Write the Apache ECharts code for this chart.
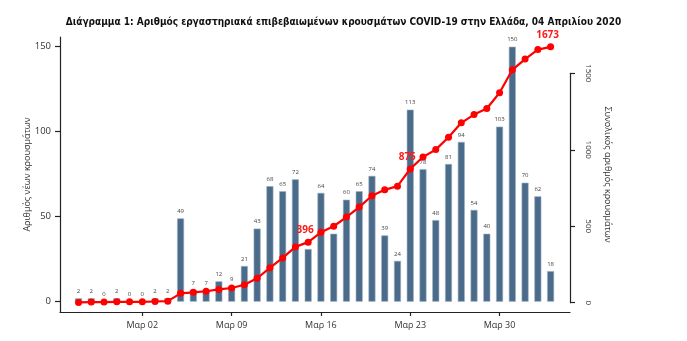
<!DOCTYPE html>
<html>
<head>
<meta charset="utf-8">
<script src="https://cdn.jsdelivr.net/npm/echarts@6/dist/echarts.min.js"></script>
<style>
  html, body { margin: 0; padding: 0; background: #fff; }
  #chart { width: 687px; height: 341px; }
</style>
</head>
<body>
<div id="chart"></div>
<script>
// Daily reporting days, 26 Feb – 3 Apr 2020
const days = [
  'Φεβ 26', 'Φεβ 27', 'Φεβ 28', 'Φεβ 29', 'Μαρ 01', 'Μαρ 02', 'Μαρ 03', 'Μαρ 04',
  'Μαρ 05', 'Μαρ 06', 'Μαρ 07', 'Μαρ 08', 'Μαρ 09', 'Μαρ 10', 'Μαρ 11', 'Μαρ 12',
  'Μαρ 13', 'Μαρ 14', 'Μαρ 15', 'Μαρ 16', 'Μαρ 17', 'Μαρ 18', 'Μαρ 19', 'Μαρ 20',
  'Μαρ 21', 'Μαρ 22', 'Μαρ 23', 'Μαρ 24', 'Μαρ 25', 'Μαρ 26', 'Μαρ 27', 'Μαρ 28',
  'Μαρ 29', 'Μαρ 30', 'Μαρ 31', 'Απρ 01', 'Απρ 02', 'Απρ 03'
];

// New confirmed cases per day
const newCases = [
  2, 2, 0, 2, 0, 0, 2, 2, 49, 7, 7, 12, 9, 21, 43, 68, 65, 72, 31,
  64, 40, 60, 65, 74, 39, 24, 113, 78, 48, 81, 94, 54, 40, 103, 150, 70, 62, 18
];

// Cumulative confirmed cases
const totalCases = [
  2, 4, 4, 6, 6, 6, 8, 10, 61, 68, 75, 87, 96, 117, 160, 228, 293, 365, 396,
  460, 500, 560, 625, 699, 738, 762, 875, 953, 1001, 1082, 1176, 1230, 1270, 1373, 1523, 1593, 1655, 1673
];

// Days whose cumulative total is written on the line
const annotatedDays = ['Μαρ 15', 'Μαρ 23', 'Απρ 03'];

// Axis ticks
const firstWeekTick = 'Μαρ 02';
const lastWeekTick = 'Μαρ 30';
const weekStep = 7;
const leftMax = 150, leftStep = 50;
const rightMax = 1500, rightStep = 500;

const FONT = '"Open Sans", "Noto Sans", sans-serif';
const AXIS_COLOR = '#222';

const barData = newCases.map((v, i) => [i, v]);
const lineData = totalCases.map((v, i) => {
  const item = { value: [i, v] };
  if (annotatedDays.includes(days[i])) {
    item.label = {
      show: true, position: 'top', distance: 3, offset: [-3, 0],
      color: '#ff1a1a', fontWeight: 'bold', fontSize: 10, fontFamily: FONT,
      formatter: p => String(p.value[1])
    };
  }
  return item;
});

// Plot frame (px inside the 687x341 canvas) and the day range it spans
const frame = { left: 60, right: 117, top: 37, bottom: 29 };
const dayMin = -1.45, dayMax = 38.52;
const pxPerDay = (687 - frame.left - frame.right) / (dayMax - dayMin);

// Left scale: 0..150 sits inside leftFrame
const leftFrame = { left: frame.left, right: frame.right, top: 46.7, bottom: 39.3 };
const lPerPx = leftMax / (341 - leftFrame.top - leftFrame.bottom);
const leftMin = -(leftFrame.bottom - frame.bottom) * lPerPx;
const leftTop = leftMax + (leftFrame.top - frame.top) * lPerPx;

// Right scale: 0..1500 sits inside rightFrame
const rightFrame = { left: frame.left, right: frame.right, top: 73.3, bottom: 38.3 };
const rPerPx = rightMax / (341 - rightFrame.top - rightFrame.bottom);
const rightMin = -(rightFrame.bottom - frame.bottom) * rPerPx;
const rightTop = rightMax + (rightFrame.top - frame.top) * rPerPx;

// Week ticks on the date axis
const i0 = days.indexOf(firstWeekTick), i1 = days.indexOf(lastWeekTick);
const weekFrame = {
  left: frame.left + (i0 - dayMin) * pxPerDay,
  right: 687 - (frame.left + (i1 - dayMin) * pxPerDay),
  top: frame.top,
  bottom: frame.bottom
};

const chart = echarts.init(document.getElementById('chart'), null, { renderer: 'canvas' });

const hiddenValue = (gridIndex, min, max) => ({
  type: 'value', gridIndex, min, max, show: false,
  axisLine: { show: false, onZero: false }, axisTick: { show: false },
  axisLabel: { show: false }, splitLine: { show: false }
});

chart.setOption({
  animation: false,
  backgroundColor: '#fff',
  title: {
    text: 'Διάγραμμα 1: Αριθμός εργαστηριακά επιβεβαιωμένων κρουσμάτων COVID-19 στην Ελλάδα, 04 Απριλίου 2020',
    left: 'center',
    top: 12,
    textStyle: {
      fontFamily: '"DejaVu Sans Condensed", "Liberation Sans Narrow", sans-serif',
      fontWeight: 'bold',
      fontSize: 10,
      color: '#111'
    }
  },
  grid: [frame, leftFrame, rightFrame, weekFrame].map(g => Object.assign({ containLabel: false }, g)),
  xAxis: [
    {
      type: 'value',
      gridIndex: 0,
      min: dayMin,
      max: dayMax,
      splitLine: { show: false },
      axisLine: { show: true, onZero: false, lineStyle: { color: AXIS_COLOR, width: 1.2 } },
      axisTick: { show: false },
      axisLabel: { show: false }
    },
    hiddenValue(1, dayMin, dayMax),
    hiddenValue(2, dayMin, dayMax),
    {
      type: 'value',
      gridIndex: 3,
      min: i0,
      max: i1,
      interval: weekStep,
      splitLine: { show: false },
      axisLine: { show: false, onZero: false },
      axisTick: { show: true, length: 4, lineStyle: { color: AXIS_COLOR, width: 1.2 } },
      axisLabel: {
        formatter: v => days[Math.round(v)],
        margin: 9,
        fontSize: 9,
        fontFamily: FONT,
        color: '#333'
      }
    }
  ],
  yAxis: [
    {
      type: 'value',
      gridIndex: 0,
      position: 'left',
      min: leftMin,
      max: leftTop,
      splitLine: { show: false },
      axisLine: { show: true, onZero: false, lineStyle: { color: AXIS_COLOR, width: 1.2 } },
      axisTick: { show: false },
      axisLabel: { show: false },
      name: 'Αριθμός νέων κρουσμάτων',
      nameLocation: 'middle',
      nameRotate: 90,
      nameGap: 28,
      nameTextStyle: { fontFamily: FONT, fontSize: 9, color: '#333' }
    },
    {
      type: 'value',
      gridIndex: 0,
      position: 'right',
      min: rightMin,
      max: rightTop,
      splitLine: { show: false },
      axisLine: { show: false, onZero: false },
      axisTick: { show: false },
      axisLabel: { show: false },
      name: 'Συνολικός αριθμός κρουσμάτων',
      nameLocation: 'middle',
      nameRotate: -90,
      nameGap: 33,
      nameTextStyle: { fontFamily: FONT, fontSize: 9, color: '#333' }
    },
    {
      type: 'value',
      gridIndex: 1,
      position: 'left',
      min: 0,
      max: leftMax,
      interval: leftStep,
      splitLine: { show: false },
      axisLine: { show: false, onZero: false },
      axisTick: { show: true, length: 5, lineStyle: { color: AXIS_COLOR, width: 1.2 } },
      axisLabel: {
        margin: 9,
        fontSize: 9.5,
        fontFamily: FONT,
        color: '#333'
      }
    },
    {
      type: 'value',
      gridIndex: 2,
      position: 'right',
      min: 0,
      max: rightMax,
      interval: rightStep,
      splitLine: { show: false },
      axisLine: { show: true, onZero: false, lineStyle: { color: AXIS_COLOR, width: 1.2 } },
      axisTick: { show: true, length: 5, lineStyle: { color: AXIS_COLOR, width: 1.2 } },
      axisLabel: {
        rotate: -90,
        margin: 14,
        fontSize: 8,
        fontFamily: FONT,
        color: '#333',
        formatter: v => String(v)
      }
    },
    hiddenValue(3, 0, 1)
  ],
  series: [
    {
      name: 'Νέα κρούσματα',
      type: 'bar',
      xAxisIndex: 0,
      yAxisIndex: 0,
      data: barData,
      barWidth: 7,
      itemStyle: {
        color: '#4a6b8a',
        borderColor: '#9fb3c6',
        borderWidth: 0.6
      },
      label: {
        show: true,
        position: 'top',
        distance: 4,
        fontSize: 6,
        fontFamily: FONT,
        color: '#444',
        formatter: p => String(p.value[1])
      },
      z: 2
    },
    {
      name: 'Σύνολο κρουσμάτων',
      type: 'line',
      xAxisIndex: 0,
      yAxisIndex: 1,
      data: lineData,
      symbol: 'circle',
      symbolSize: 7,
      clip: false,
      lineStyle: { color: '#ff0000', width: 2.2 },
      itemStyle: { color: '#ff0000' },
      z: 5
    }
  ]
});
</script>
</body>
</html>
